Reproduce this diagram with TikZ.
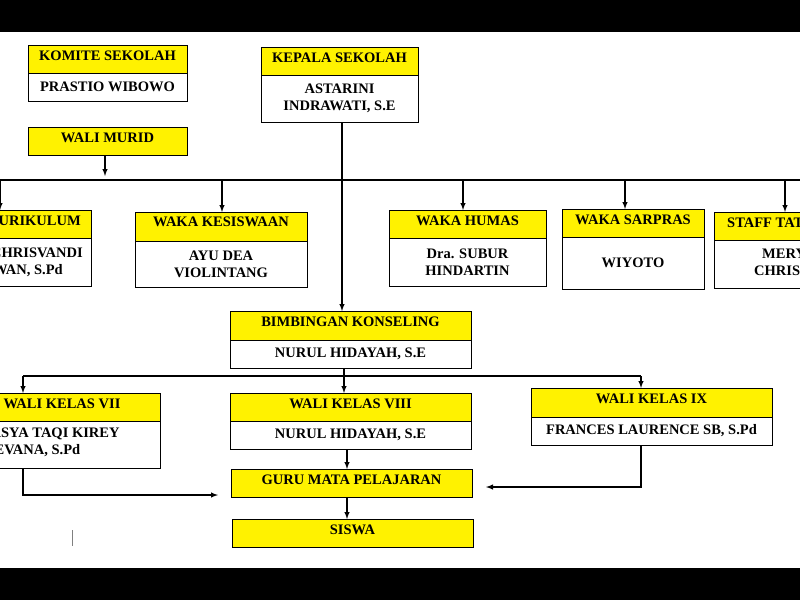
\documentclass[tikz,border=0pt]{standalone}
\usepackage{fontspec}
\setmainfont{Liberation Serif}
\begin{document}
\begin{tikzpicture}[x=1pt,y=-1pt,
 bx/.style={draw=black,line width=0.8pt,inner sep=0pt,outer sep=0pt,font=\bfseries\fontsize{14.5}{17}\selectfont,align=center},
 hd/.style={bx,fill=yellow},
 bd/.style={bx,fill=white},
 t/.style={font=\bfseries\fontsize{14.5}{17}\selectfont,inner sep=0pt},
 ln/.style={line width=1.4pt},
 ar/.style={ln,-latex}]
\useasboundingbox (0,0) rectangle (800,600);
\fill[white] (0,0) rectangle (800,600);
\begin{scope}
\clip (0,0) rectangle (800,600);
% top
\node[hd,minimum width=159,minimum height=28] (ks) at (107.5,59) {};
\node[t] at (107.5,56) {KOMITE SEKOLAH};
\node[bd,minimum width=159,minimum height=28] (ksb) at (107.5,87) {PRASTIO WIBOWO};
\node[hd,minimum width=159,minimum height=28] (wm) at (107.5,141) {};
\node[t] at (107.5,138) {WALI MURID};
\node[hd,minimum width=157,minimum height=28] (kp) at (339.5,61) {};
\node[t] at (339.5,58) {KEPALA SEKOLAH};
\node[bd,minimum width=157,minimum height=47] (kpb) at (339.5,98.5) {ASTARINI\\INDRAWATI, S.E};
\coordinate (hl) at (0,180); \coordinate (hr) at (800,180);
\draw[ln] (hl) -- (hr);
\draw[ar] (105,0 |- wm.south) -- (105,176);
% row 2
\node[hd,minimum width=171,minimum height=28] (kur) at (5.5,224) {};
\node[t,anchor=east] at (81,221) {WAKA KURIKULUM};
\node[bd,minimum width=171,minimum height=48] (kurb) at (5.5,262) {};
\node[t,anchor=east,align=right] at (83,262) {YOSEPH CHRISVANDI\\IRAWAN, S.Pd\hspace*{20pt}};
\node[hd,minimum width=172,minimum height=29] (ksw) at (221,226.5) {};
\node[t] at (221,222) {WAKA KESISWAAN};
\node[bd,minimum width=172,minimum height=46] (kswb) at (221,264) {AYU DEA\\VIOLINTANG};
\node[hd,minimum width=157,minimum height=28] (hum) at (467.5,224) {};
\node[t] at (467.5,221) {WAKA HUMAS};
\node[bd,minimum width=157,minimum height=48] (humb) at (467.5,262) {Dra. SUBUR\\HINDARTIN};
\node[hd,minimum width=142,minimum height=28] (sar) at (633,223) {};
\node[t] at (633,220) {WAKA SARPRAS};
\node[bd,minimum width=142,minimum height=52] (sarb) at (633,263) {WIYOTO};
\node[hd,minimum width=160,minimum height=28] (sta) at (794,226) {};
\node[t,anchor=west] at (727,223) {STAFF TATA USAHA};
\node[bd,minimum width=160,minimum height=48] (stab) at (794,264) {};
\node[t,anchor=west,align=left] at (754,262) {\hspace*{8pt}MERY\\CHRISTINA};
\foreach \x/\n in {0/kur,222/ksw,463/hum,625/sar,785/sta} \draw[ar] (\x,180) -- (\x,0 |- \n.north);
% bimbingan
\node[hd,minimum width=241,minimum height=29] (bk) at (350.5,325.5) {};
\node[t] at (350.5,322) {BIMBINGAN KONSELING};
\node[bd,minimum width=241,minimum height=28] (bkb) at (350.5,354) {NURUL HIDAYAH, S.E};
\draw[ar] (342,0 |- kpb.south) -- (342,0 |- bk.north);
\draw[ln] (23,376) -- (641,376);
\draw[ln] (344,0 |- bkb.south) -- (344,376);
% wali kelas
\node[hd,minimum width=200,minimum height=28] (w7) at (60,407) {};
\node[t] at (62,404) {WALI KELAS VII};
\node[bd,minimum width=200,minimum height=47] (w7b) at (60,444.5) {};
\node[t,anchor=west,align=left] at (-20,442) {NASYA TAQI KIREY\\\hspace*{4pt}DEVANA, S.Pd};
\node[hd,minimum width=241,minimum height=28] (w8) at (350.5,407) {};
\node[t] at (350.5,404) {WALI KELAS VIII};
\node[bd,minimum width=241,minimum height=28] (w8b) at (350.5,435) {NURUL HIDAYAH, S.E};
\node[hd,minimum width=241,minimum height=29] (w9) at (651.5,402.5) {};
\node[t] at (651.5,399) {WALI KELAS IX};
\node[bd,minimum width=241,minimum height=28] (w9b) at (651.5,431) {FRANCES LAURENCE SB, S.Pd};
\draw[ar] (23,376) -- (23,0 |- w7.north);
\draw[ar] (344,376) -- (344,0 |- w8.north);
\draw[ar] (641,376) -- (641,0 |- w9.north);
\node[hd,minimum width=241,minimum height=28] (gm) at (351.5,483) {};
\node[t] at (351.5,480) {GURU MATA PELAJARAN};
\node[hd,minimum width=241,minimum height=28] (sw) at (352.5,533) {};
\node[t] at (352.5,530) {SISWA};
\draw[ar] (347,0 |- w8b.south) -- (347,0 |- gm.north);
\draw[ar] (347,0 |- gm.south) -- (347,0 |- sw.north);
\coordinate (c7) at (23,495); \coordinate (e7) at (218,495);
\draw[ar] (23,0 |- w7b.south) -- (c7) -- (e7);
\coordinate (c9) at (641,487); \coordinate (e9) at (486,487);
\draw[ar] (641,0 |- w9b.south) -- (c9) -- (e9);
\draw[gray,line width=0.6pt] (72,530) -- (72,546);
\end{scope}
\fill[black] (0,0) rectangle (800,32);
\fill[black] (0,568) rectangle (800,600);
\end{tikzpicture}
\end{document}
